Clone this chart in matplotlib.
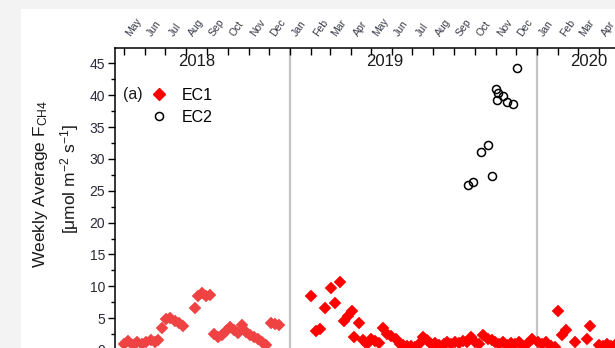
import matplotlib
matplotlib.use('Agg')
import matplotlib.pyplot as plt
import matplotlib.dates as mdates
from matplotlib.ticker import MultipleLocator, FixedLocator, FixedFormatter, NullFormatter
from matplotlib.lines import Line2D
from matplotlib.patches import Rectangle
import pandas as pd
import numpy as np

plt.rcParams['font.family'] = ['Liberation Sans', 'DejaVu Sans']
plt.rcParams['mathtext.fontset'] = 'custom'
plt.rcParams['mathtext.rm'] = 'Liberation Sans'
plt.rcParams['mathtext.it'] = 'Liberation Sans:italic'
plt.rcParams['mathtext.bf'] = 'Liberation Sans:bold'

# ---------------- data ----------------
ec1_2018_dates = ['2018-05-01', '2018-05-07', '2018-05-14', '2018-05-20', '2018-05-27',
                  '2018-06-02', '2018-06-10', '2018-06-16', '2018-06-20', '2018-06-26',
                  '2018-07-02', '2018-07-08', '2018-07-15', '2018-07-21', '2018-07-27',
                  '2018-08-14', '2018-08-18', '2018-08-24', '2018-08-30', '2018-09-05',
                  '2018-09-11', '2018-09-17', '2018-09-23', '2018-09-28', '2018-10-04',
                  '2018-10-10', '2018-10-16', '2018-10-22', '2018-10-28', '2018-11-03',
                  '2018-11-09', '2018-11-15', '2018-11-21', '2018-11-26', '2018-12-04',
                  '2018-12-10', '2018-12-16']
ec1_2018_vals = [1.0, 1.4, 0.8, 1.2, 0.9,
                 1.3, 1.5, 1.3, 1.6, 3.4,
                 4.8, 5.0, 4.6, 4.2, 3.7,
                 6.6, 8.5, 8.9, 8.5, 8.7,
                 2.5, 2.0, 2.4, 3.0, 3.6,
                 3.2, 2.6, 3.9, 2.8, 2.3,
                 2.1, 1.7, 1.3, 0.8, 4.3,
                 4.1, 3.9]

ec1_dates = ['2019-02-01', '2019-02-08', '2019-02-15', '2019-02-22', '2019-03-02',
             '2019-03-09', '2019-03-16', '2019-03-22', '2019-03-28', '2019-04-03',
             '2019-04-06', '2019-04-13', '2019-04-19', '2019-04-25', '2019-05-01',
             '2019-05-07', '2019-05-13', '2019-05-19', '2019-05-25', '2019-05-31',
             '2019-06-06', '2019-06-12', '2019-06-17', '2019-06-23', '2019-06-29',
             '2019-07-05', '2019-07-11', '2019-07-17', '2019-07-23', '2019-07-29',
             '2019-08-04', '2019-08-10', '2019-08-16', '2019-08-21', '2019-08-27',
             '2019-09-02', '2019-09-08', '2019-09-14', '2019-09-20', '2019-09-26',
             '2019-10-02', '2019-10-08', '2019-10-14', '2019-10-20', '2019-10-26',
             '2019-10-31', '2019-11-06', '2019-11-12', '2019-11-18', '2019-11-24',
             '2019-11-30', '2019-12-06', '2019-12-12', '2019-12-18', '2019-12-25',
             '2020-01-03', '2020-01-09', '2020-01-15', '2020-01-21', '2020-01-27',
             '2020-02-01', '2020-02-07', '2020-02-13', '2020-02-26', '2020-03-15',
             '2020-03-19', '2020-04-02', '2020-04-08', '2020-04-14', '2020-04-20',
             '2020-04-26']
ec1_vals = [8.5, 3.0, 3.3, 6.6, 9.7,
            7.3, 10.7, 4.5, 5.3, 6.1,
            2.0, 4.3, 1.5, 1.0, 1.8,
            1.4, 1.1, 3.5, 2.5, 2.2,
            1.7, 1.0, 0.8, 0.6, 0.7,
            0.5, 0.9, 2.0, 1.5, 0.9,
            1.1, 0.8, 1.0, 1.2, 1.0,
            1.3, 1.1, 1.4, 1.2, 2.0,
            1.2, 1.0, 2.3, 1.8, 1.5,
            1.3, 1.0, 1.2, 0.8, 1.1,
            0.9, 1.2, 0.7, 1.0, 1.8,
            1.3, 0.9, 1.2, 0.7, 0.5,
            6.2, 2.3, 3.2, 1.3, 1.8,
            3.7, 0.8, 0.7, 0.9, 0.6,
            0.8]

ec2_dates = ['2019-09-21', '2019-09-29', '2019-10-11', '2019-10-20', '2019-10-26',
             '2019-11-01', '2019-11-03', '2019-11-04', '2019-11-12', '2019-11-17',
             '2019-11-26', '2019-12-03']
ec2_vals = [25.9, 26.3, 31.1, 32.2, 27.3,
            41.0, 39.3, 40.3, 39.9, 38.9,
            38.6, 44.2]

month_labels = ['May', 'Jun', 'Jul', 'Aug', 'Sep', 'Oct', 'Nov', 'Dec',
                'Jan', 'Feb', 'Mar', 'Apr', 'May', 'Jun', 'Jul', 'Aug', 'Sep', 'Oct', 'Nov', 'Dec',
                'Jan', 'Feb', 'Mar', 'Apr']
year_labels = ['2018', '2019', '2020']
year_label_dates = ['2018-08-17', '2019-05-21', '2020-03-17']
year_starts = ['2019-01-01', '2020-01-01']
y_ticks = [0, 5, 10, 15, 20, 25, 30, 35, 40, 45]

# ---------------- figure ----------------
W, H = 615, 348
fig = plt.figure(figsize=(W / 100, H / 100), dpi=100, facecolor='#f3f3f3')
fig.add_artist(Rectangle((21 / W, 0), 1, 1 - 9 / H, transform=fig.transFigure,
                         facecolor='white', edgecolor='none', zorder=0))

ax_l, ax_r, ax_t, ax_b = 115, 720, 48, 370
ax = fig.add_axes([ax_l / W, (H - ax_b) / H, (ax_r - ax_l) / W, (ax_b - ax_t) / H])
ax.set_facecolor('white')

ax.set_xlim(pd.Timestamp('2018-04-17 14:00'), pd.Timestamp('2020-09-27 10:00'))
ax.set_ylim(-3.14, 47.41)

for d in year_starts:
    ax.axvline(pd.Timestamp(d), color='#c4c4c4', lw=1.6, zorder=1)

ax.plot(pd.to_datetime(ec1_2018_dates), ec1_2018_vals, ls='none', marker='D', ms=5.8,
        color='#ef4343', mec='#ef4343', mew=0.3, zorder=3)
ax.plot(pd.to_datetime(ec1_dates), ec1_vals, ls='none', marker='D', ms=5.8,
        color='#ff0000', mec='#ff0000', mew=0.3, zorder=3)
ax.plot(pd.to_datetime(ec2_dates), ec2_vals, ls='none', marker='o', ms=5.8,
        mfc='none', mec='black', mew=1.1, zorder=4)

# spines
for s in ['right', 'bottom']:
    ax.spines[s].set_visible(False)
for s in ['left', 'top']:
    ax.spines[s].set_linewidth(1.1)
    ax.spines[s].set_color('black')

# y axis
ax.yaxis.set_major_locator(FixedLocator(y_ticks))
ax.yaxis.set_minor_locator(MultipleLocator(2.5))
ax.tick_params(axis='y', which='major', direction='out', length=5, width=1,
               labelsize=10, pad=2, labelcolor='#2a2a3a')
ax.tick_params(axis='y', which='minor', direction='out', length=3, width=1)

# x axis (top)
ax.xaxis.tick_top()
ax.xaxis.set_major_locator(mdates.MonthLocator())
ax.xaxis.set_major_formatter(NullFormatter())
mid_month = pd.date_range('2018-05-01', periods=len(month_labels), freq='MS') + pd.Timedelta(days=14)
ax.xaxis.set_minor_locator(FixedLocator(mdates.date2num(mid_month)))
ax.xaxis.set_minor_formatter(FixedFormatter(month_labels))
ax.tick_params(axis='x', which='major', direction='in', length=5, width=1,
               top=True, bottom=False, labeltop=False, labelbottom=False)
ax.tick_params(axis='x', which='minor', length=0, top=True, bottom=False,
               labeltop=True, labelbottom=False, labelsize=7.5, pad=7,
               labelrotation=55, labelcolor='#3a3a4a')

# year labels
for lab, d in zip(year_labels, year_label_dates):
    ax.text(pd.Timestamp(d), 0.9596, lab, transform=ax.get_xaxis_transform(),
            ha='center', va='center', fontsize=12, color='#1a1a1a')

# y label (two lines)
fig.text(40 / W, 1 - 184 / H, 'Weekly Average F$_{\\mathrm{CH4}}$', rotation=90,
         ha='center', va='center', fontsize=12.5, color='#1a1a1a')
fig.text(70 / W, 1 - 179 / H, '[\u03bcmol m$^{-2}$ s$^{-1}$]', rotation=90,
         ha='center', va='center', fontsize=12.5, color='#1a1a1a')

# panel label and legend
fig.text(133 / W, 1 - 95 / H, '(a)', ha='center', va='center', fontsize=11.5, color='#1a1a1a')
handles = [Line2D([], [], ls='none', marker='D', ms=5.8, color='#ff0000'),
           Line2D([], [], ls='none', marker='o', ms=5.8, mfc='none', mec='black', mew=1.1)]
ax.legend(handles, ['EC1', 'EC2'], loc='upper left', bbox_to_anchor=(151 / W, 1 - 88 / H),
          bbox_transform=fig.transFigure, frameon=False, fontsize=11.5,
          handlelength=1.0, handletextpad=0.9, labelspacing=0.42,
          borderpad=0, borderaxespad=0)

fig.savefig('out.png', dpi=100, facecolor=fig.get_facecolor())
